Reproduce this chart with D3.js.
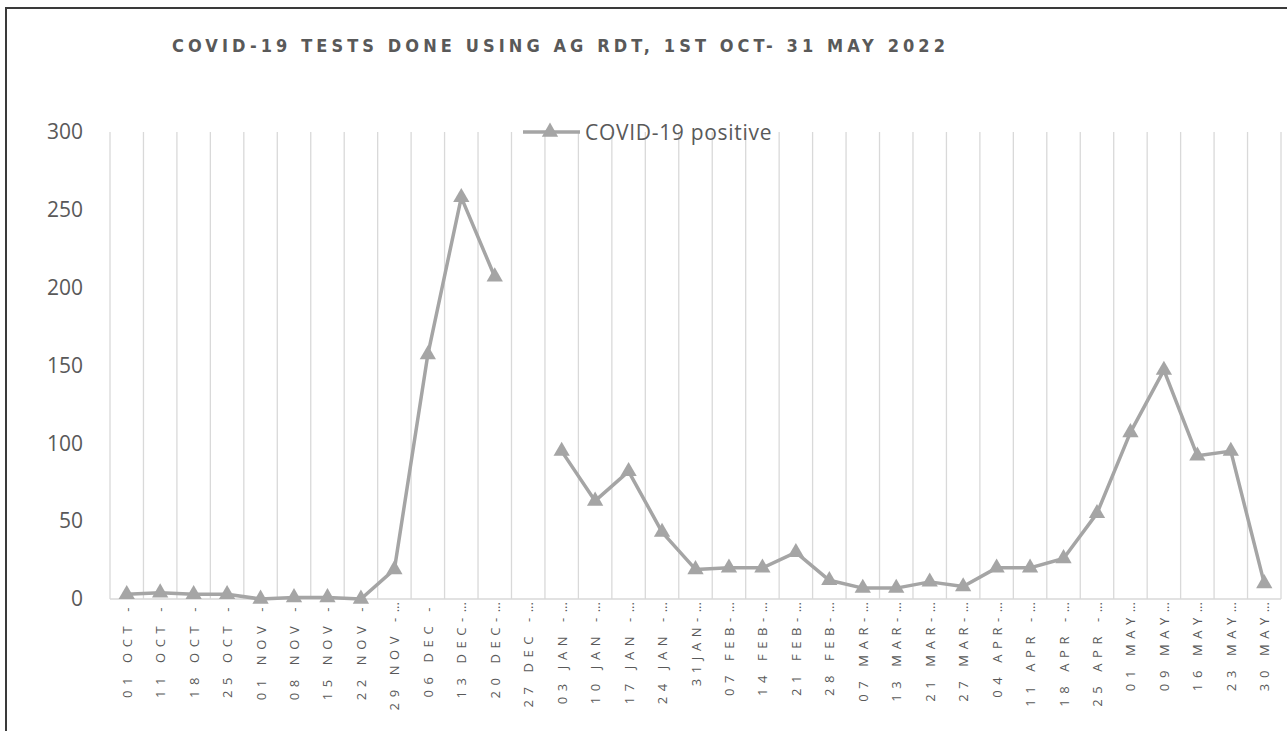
<!DOCTYPE html>
<html>
<head>
<meta charset="utf-8">
<script src="https://cdn.jsdelivr.net/npm/d3@7"></script>
<style>
  html, body { margin: 0; padding: 0; background: #ffffff; }
  svg { display: block; }
  text { font-family: "Open Sans", "Liberation Sans", Arial, sans-serif; fill: #595959; }
</style>
</head>
<body>
<svg id="chart" width="1287" height="731"></svg>
<script>
// Weekly reporting periods (start of each week)
const categories = ["01 OCT","11 OCT","18 OCT","25 OCT","01 NOV","08 NOV","15 NOV","22 NOV","29 NOV",
  "06 DEC","13 DEC","20 DEC","27 DEC","03 JAN","10 JAN","17 JAN","24 JAN","31JAN","07 FEB","14 FEB",
  "21 FEB","28 FEB","07 MAR","13 MAR","21 MAR","27 MAR","04 APR","11 APR","18 APR","25 APR",
  "01 MAY","09 MAY","16 MAY","23 MAY","30 MAY"];

// Axis labels as printed under each period; the week-range text is cut short
const tickLabels = ["01 OCT -","11 OCT -","18 OCT -","25 OCT -","01 NOV -","08 NOV -","15 NOV -","22 NOV -","29 NOV -",
  "06 DEC -","13 DEC-","20 DEC-","27 DEC -","03 JAN -","10 JAN -","17 JAN -","24 JAN -","31JAN-","07 FEB-","14 FEB-",
  "21 FEB-","28 FEB-","07 MAR-","13 MAR-","21 MAR-","27 MAR-","04 APR-","11 APR -","18 APR -","25 APR -",
  "01 MAY","09 MAY","16 MAY","23 MAY","30 MAY"];
// Which labels end in an ellipsis
const truncated = [false,false,false,false,false,false,false,false,true,
  false,true,true,true,true,true,true,true,true,true,true,
  true,true,true,true,true,true,true,true,true,true,
  true,true,true,true,true];

// COVID-19 positive Ag RDT results per week (no report for 27 DEC)
const positives = [3,4,3,3,0,1,1,0,19,157,258,207,null,95,63,82,43,19,20,20,30,12,7,7,11,8,20,20,26,55,107,147,92,95,10];

const yTicks = [0,50,100,150,200,250,300];

const title = "COVID-19 TESTS DONE USING AG RDT, 1ST OCT- 31 MAY 2022";
const seriesName = "COVID-19 positive";

const svg = d3.select("#chart");
const W = 1287, H = 731;
const plot = { left: 110, right: 1281, top: 132, bottom: 599 };

const lineColor = "#a5a5a5";
const gridColor = "#d9d9d9";

// Chart frame
svg.append("rect")
  .attr("x", 6).attr("y", 8)
  .attr("width", W + 20).attr("height", H + 20)
  .attr("fill", "none").attr("stroke", "#3a3a3a").attr("stroke-width", 2);

// Title
svg.append("text")
  .attr("x", 172).attr("y", 52)
  .attr("textLength", 773).attr("lengthAdjust", "spacing")
  .style("font-family", "'DejaVu Sans Condensed', 'Liberation Sans', Arial, sans-serif")
  .style("font-stretch", "condensed")
  .style("font-size", "18px").style("font-weight", "bold")
  .text(title);

const x = d3.scaleBand().domain(categories).range([plot.left, plot.right]).padding(0);
const y = d3.scaleLinear().domain([0, 300]).range([plot.bottom, plot.top]);

// Vertical gridlines at category boundaries
const bounds = categories.map(c => x(c)).concat([x(categories[categories.length - 1]) + x.bandwidth()]);
svg.append("g").selectAll("line").data(bounds).join("line")
  .attr("x1", d => d).attr("x2", d => d)
  .attr("y1", y(300)).attr("y2", y(0))
  .attr("stroke", gridColor).attr("stroke-width", 1.3);

// Category axis line
svg.append("line")
  .attr("x1", plot.left).attr("x2", plot.right)
  .attr("y1", y(0)).attr("y2", y(0))
  .attr("stroke", gridColor).attr("stroke-width", 1.5);

// Value axis labels
const yAxis = d3.axisLeft(y).tickValues(yTicks).tickSize(0).tickPadding(0);
const yg = svg.append("g").attr("transform", "translate(83,0)").call(yAxis);
yg.select(".domain").remove();
yg.selectAll("text")
  .attr("fill", "#595959")
  .style("font-family", "'Open Sans', 'Liberation Sans', Arial, sans-serif")
  .style("font-size", "21px");

// Category labels, rotated and letter-spaced
const xl = svg.append("g").selectAll("text").data(categories).join("text")
  .attr("transform", d => `translate(${x(d) + x.bandwidth() / 2},602) rotate(-90)`)
  .attr("text-anchor", "end")
  .attr("dominant-baseline", "central")
  .style("font-size", "13px");
xl.append("tspan")
  .style("letter-spacing", "5.6px")
  .text((d, i) => tickLabels[i]);
xl.filter((d, i) => truncated[i]).append("tspan")
  .style("letter-spacing", "0px")
  .text("…");

// Series line (gap where no data)
const line = d3.line()
  .defined(d => d.v !== null)
  .x(d => x(d.c) + x.bandwidth() / 2)
  .y(d => y(d.v));

const pts = categories.map((c, i) => ({ c, v: positives[i] }));

svg.append("path")
  .datum(pts)
  .attr("d", line)
  .attr("fill", "none")
  .attr("stroke", lineColor)
  .attr("stroke-width", 3.5)
  .attr("stroke-linejoin", "round");

const tri = d3.symbol(d3.symbolTriangle, 115);
svg.append("g").selectAll("path").data(pts.filter(d => d.v !== null)).join("path")
  .attr("d", tri)
  .attr("transform", d => `translate(${x(d.c) + x.bandwidth() / 2},${y(d.v)})`)
  .attr("fill", lineColor);

// Legend
const lg = svg.append("g").attr("transform", "translate(523,132)");
lg.append("line").attr("x1", 0).attr("x2", 57).attr("y1", 0).attr("y2", 0)
  .attr("stroke", lineColor).attr("stroke-width", 3.5);
lg.append("path").attr("d", tri).attr("transform", "translate(27,0)").attr("fill", lineColor);
lg.append("text").attr("x", 62).attr("y", 0)
  .attr("dominant-baseline", "central")
  .style("font-size", "21px")
  .style("letter-spacing", "0.7px")
  .text(seriesName);
</script>
</body>
</html>
